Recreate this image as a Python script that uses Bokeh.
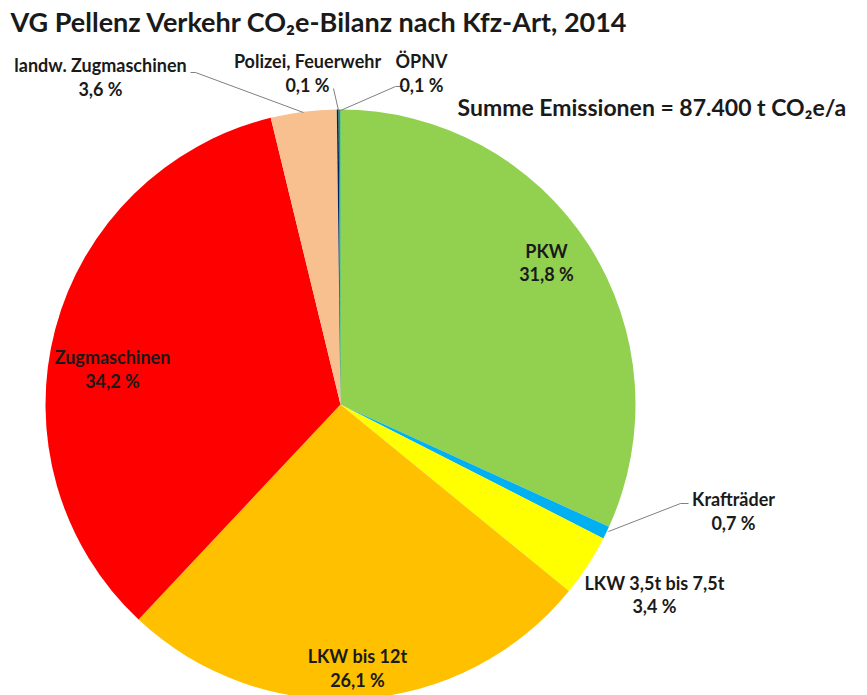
import math
from bokeh.plotting import figure
from bokeh.models import Range1d, ColumnDataSource
from bokeh.core.properties import value
from bokeh.embed import file_html
from bokeh.resources import INLINE

# ---- data ----
categories = ["PKW", "Krafträder", "LKW 3,5t bis 7,5t", "LKW bis 12t",
              "Zugmaschinen", "landw. Zugmaschinen", "Polizei, Feuerwehr", "ÖPNV"]
shares = [31.8, 0.7, 3.4, 26.1, 34.2, 3.6, 0.1, 0.1]
colors = ["#92D050", "#00B0F0", "#FFFF00", "#FFC000",
          "#FF0000", "#F8BF8F", "#002060", "#00B050"]
title_text = "VG Pellenz Verkehr CO\u2082e-Bilanz nach Kfz-Art, 2014"
total_text = "Summe Emissionen = 87.400 t CO\u2082e/a"

FONT = "Lato"
PH = 695  # page height, y conversion

def Y(py):
    return PH - py

p = figure(width=867, height=695, output_backend="svg", toolbar_location=None,
           x_range=Range1d(0, 867), y_range=Range1d(0, 695),
           min_border=0, outline_line_color=None)
p.axis.visible = False
p.grid.visible = False
p.background_fill_color = "white"

# pie geometry
cx, cy, r = 340, 404, 295
total = sum(shares)
starts, ends = [], []
cum = 0.0
for v in shares:
    starts.append(math.pi / 2 - 2 * math.pi * cum / total)
    cum += v
    ends.append(math.pi / 2 - 2 * math.pi * cum / total)
src = ColumnDataSource(dict(start=starts, end=ends, color=colors))
p.wedge(x=cx, y=Y(cy), radius=r, start_angle="start", end_angle="end",
        direction="clock", fill_color="color", line_color=None, source=src)

# leader lines (page coords)
leaders = {
    "landw. Zugmaschinen": [(190, 72), (195, 72), (303, 112)],
    "Polizei, Feuerwehr": [(333, 88), (338, 110)],
    "ÖPNV": [(403, 86), (395, 86), (340, 110)],
    "Krafträder": [(688, 503), (680, 503), (608, 531)],
}
for pts in leaders.values():
    p.line([q[0] for q in pts], [Y(q[1]) for q in pts], line_color="#808080", line_width=1)

# label positions (page coords: centre x, y of name line, y of pct line)
label_pos = {
    "PKW": (546, 250, 273),
    "Krafträder": (733, 498, 522),
    "LKW 3,5t bis 7,5t": (654, 582, 605),
    "LKW bis 12t": (357, 655, 679),
    "Zugmaschinen": (112, 356, 380),
    "landw. Zugmaschinen": (100, 64, 88),
    "Polizei, Feuerwehr": (307, 60, 84),
    "ÖPNV": (421, 60, 84),
}
xs, ys, ts = [], [], []
for name, v in zip(categories, shares):
    lx, ly1, ly2 = label_pos[name]
    pct = f"{v:.1f} %".replace(".", ",")
    xs += [lx, lx]
    ys += [Y(ly1), Y(ly2)]
    ts += [name, pct]
p.text(x=xs, y=ys, text=ts, text_align="center", text_baseline="middle",
       text_font=value(FONT), text_font_style="bold", text_font_size="18px",
       text_color="#1a1a1a")

p.text(x=[10], y=[Y(21)], text=[title_text], text_align="left", text_baseline="middle",
       text_font=value(FONT), text_font_style="bold", text_font_size="27px",
       text_color="#1a1a1a")
p.text(x=[457], y=[Y(106)], text=[total_text], text_align="left", text_baseline="middle",
       text_font=value(FONT), text_font_style="bold", text_font_size="23px",
       text_color="#1a1a1a")

open("out.html", "w").write(file_html(p, INLINE))
